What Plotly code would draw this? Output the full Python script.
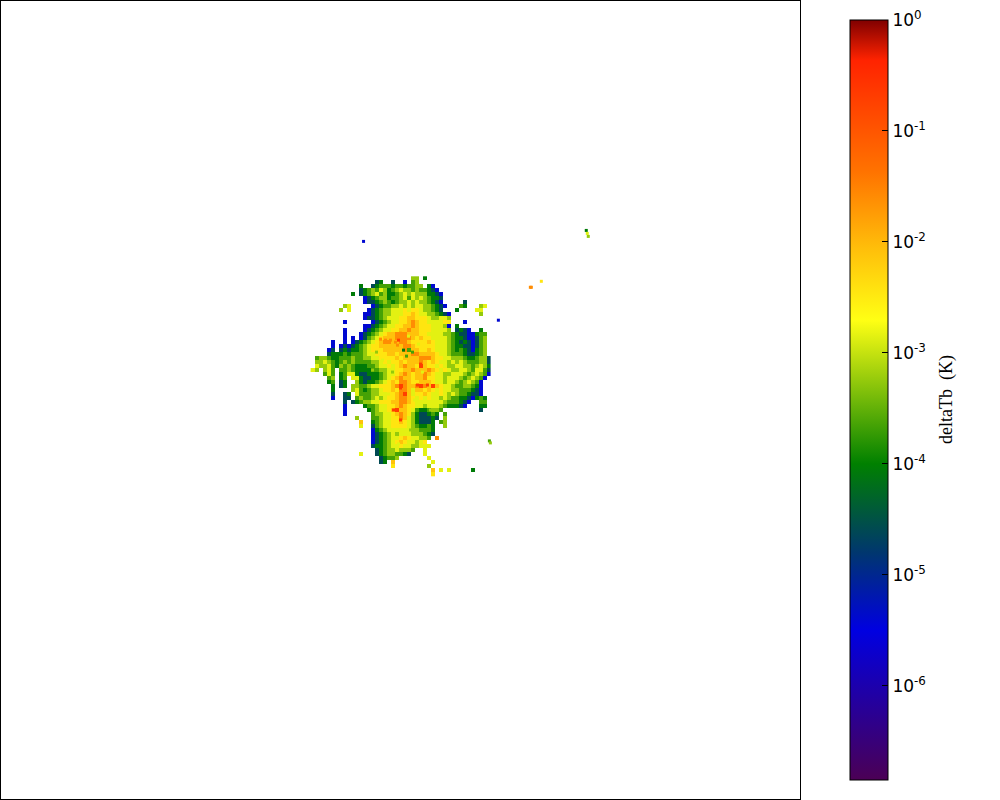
import plotly.graph_objects as go

# Estimated brightness temperature map, one digit per cell (top row first); "." means no data.
brightness_rows = [
".........................44.2",
"................12..1..0.34",
"............2..1233323323344.20",
"............12343542345443433210",
"..........2.123453422345454442210",
".............01234423345354543221",
".............01123432344545443210.....1",
"........45.....0123344545455443210...32...45",
".......4.5....0123445556566544321...2....55",
".............0012344555667655443210.......4",
".............0112345556677666544554",
"........0......01234556678766555566...0",
".............0012345566778766655540.2",
"........0....0123455667787766655554.1210..2",
"........0...01234567788877766555544321100233",
"........0.0.01345677788887676655554322100134",
".....0..0.0123456788778876666765554321210134",
".....0.0101234566777777887666665554322110134",
"....01.1212234566677777837766765554323210234",
"....1222323334556667767778877776554333211234",
".34432233343344556666767777888766554443223441",
".4454323434" + "3333445656676777" + "876765545454" + "333441",
".5445324343" + "2223345565678776" + "9" + "76656544554434542",
"54.453.3343" + "2222334455667787" + "778765654455435531",
"...353.2355" + "2112223455678767" + "787655445554345430",
"....34.23.5" + "5" + "2112234567877677" + "8665545554345430",
"....23.12..4" + "2122345676887667" + "776554554345430",
".....2.12.4" + "433455666789" + "87789879" + "765543344320",
".....2....4" + "5323445667688757" + "7676565544333210",
".....1..12." + "5333445566789756" + "6765565454332110",
".....0..11.3" + "4334545667887656" + "565545433221023" + "2",
"........1.12" + "3445566677887655555554333210" + ".." + "33",
"........0....2" + "3345566787665545554322210" + "..." + "22",
"........0.....2345567977653223443.........1",
"........0......34455678764211232.3",
"...........4...33455668754211121.4",
"............7..2345566765421112.34",
"............5..1345566665432232..4",
"...............0234555555443332",
"...............0123454555444321",
"...............012345567655443.8",
"...............01234567655456",
"...............122345565544555",
"................1234454443..5",
"............5...123443321...5",
".................12334.......5",
".................12.7.........5",
"....................6........4",
"..............................7.5.5.....2",
"..............................6",
]
level_exponents = [-5.4, -4.6, -4.05, -3.65, -3.25, -2.85, -2.45, -2.1, -1.6, -0.7]

# Isolated specks away from the main structure
speck_x = [293, 293.5, 294, 181.5, 265, 265.5, 270.5, 249, 244.5, 245]
speck_y = [115, 116.5, 118, 120.5, 143.5, 143.5, 140.5, 160, 220.5, 221.5]
speck_levels = [2, 5, 4, 0, 8, 8, 6, 0, 3, 4]

# Fine hot and cool cells read from the central region
detail_x = [200, 199, 198.5, 190, 192.5, 195, 197.5, 201.5, 210, 200, 208.5, 213.5, 196.5, 200,
            204, 191, 186, 207, 196, 203, 188, 194, 209, 215, 205, 199, 187, 211, 192, 206]
detail_y = [166.5, 170, 172.5, 169.5, 170, 170, 171, 175, 182, 194, 192.5, 192.5, 205, 210,
            168, 180, 185, 200, 186, 178, 176, 197, 172, 205, 215, 222, 195, 186, 212, 176]
detail_levels = [8, 9, 8, 8, 8, 8, 8, 2, 9, 9, 9, 9, 9, 9,
                 5, 5, 4, 5, 4, 3, 4, 5, 5, 4, 4, 5, 4, 5, 5, 3]

tick_exponents = [-6, -5, -4, -3, -2, -1, 0]
tick_labels = ["10<sup>-6</sup>", "10<sup>-5</sup>", "10<sup>-4</sup>", "10<sup>-3</sup>",
               "10<sup>-2</sup>", "10<sup>-1</sup>", "10<sup>0</sup>"]
colorbar_title = "deltaTb\u00a0\u00a0(K)"

colour_stops = [
    [0.0, "rgb(75,0,85)"],
    [0.197, "rgb(0,0,225)"],
    [0.30, "rgb(0,55,110)"],
    [0.416, "rgb(0,128,0)"],
    [0.605, "rgb(255,255,20)"],
    [0.70, "rgb(255,190,10)"],
    [0.80, "rgb(255,115,0)"],
    [0.947, "rgb(255,35,0)"],
    [1.0, "rgb(128,0,0)"],
]

width = max(len(r) for r in brightness_rows)
z = [[None if c == "." else level_exponents[int(c)] for c in r.ljust(width, ".")]
     for r in brightness_rows]

fig = go.Figure()
fig.add_trace(go.Heatmap(
    z=z, x0=156, dx=2, y0=139, dy=2,
    coloraxis="coloraxis", hoverongaps=False,
))
fig.add_trace(go.Scatter(
    x=speck_x, y=speck_y, mode="markers", showlegend=False,
    marker=dict(symbol="square", size=3, line_width=0,
                color=[level_exponents[i] for i in speck_levels], coloraxis="coloraxis"),
))
fig.add_trace(go.Scatter(
    x=detail_x, y=detail_y, mode="markers", showlegend=False,
    marker=dict(symbol="square", size=3, line_width=0,
                color=[level_exponents[i] for i in detail_levels], coloraxis="coloraxis"),
))
axis = dict(showline=True, mirror=True, linecolor="black", linewidth=1, showgrid=False,
            zeroline=False, showticklabels=False, ticks="")
fig.update_layout(
    width=1000, height=800, margin=dict(l=1, r=200, t=1, b=1),
    paper_bgcolor="white", plot_bgcolor="white", showlegend=False,
    xaxis=dict(range=[0, 400], **axis),
    yaxis=dict(range=[400, 0], **axis),
    coloraxis=dict(
        cmin=-6.85, cmax=0, colorscale=colour_stops,
        colorbar=dict(
            xref="container", yref="paper", x=0.85, xanchor="left", xpad=0,
            y=0.5, yanchor="middle", ypad=0,
            thicknessmode="pixels", thickness=38, lenmode="pixels", len=760,
            outlinecolor="black", outlinewidth=1,
            tickmode="array", tickvals=tick_exponents, ticktext=tick_labels,
            ticks="inside", ticklen=6, tickcolor="black", tickwidth=1,
            tickfont=dict(family="DejaVu Sans", size=17, color="black"),
        ),
    ),
    annotations=[dict(
        text=colorbar_title, xref="paper", yref="paper", x=945 / 799, y=0.5,
        xanchor="center", yanchor="middle", textangle=-90, showarrow=False,
        font=dict(family="Liberation Serif", size=18, color="black"),
    )],
)
fig.write_html("out.html", config={"displayModeBar": False},
               post_script="document.body.style.margin='0';")
